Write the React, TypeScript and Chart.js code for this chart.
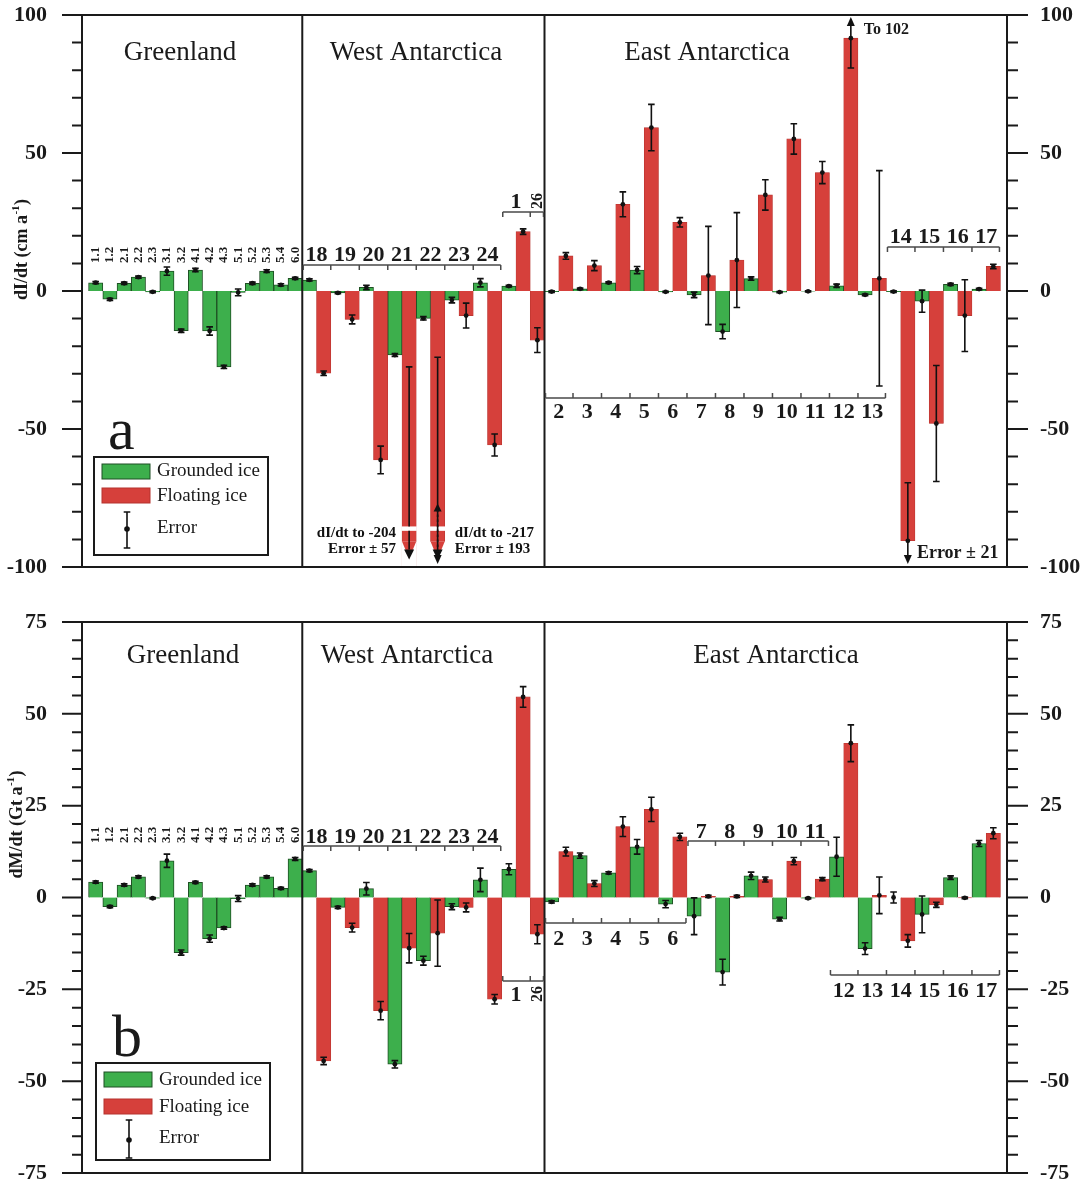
import React, { useEffect, useRef } from 'react';
import { Chart, registerables } from 'chart.js';

Chart.register(...registerables);

const SERIF = '"Liberation Serif", "Times New Roman", "DejaVu Serif", serif';
const INK = '#1a1a1a';
const GREEN = '#3daf4c';
const GREEN_EDGE = '#1f4f24';
const RED = '#d6403b';
const RED_EDGE = '#b5332e';

// ---------- basins ----------
const greenlandBasins = ['1.1', '1.2', '2.1', '2.2', '2.3', '3.1', '3.2', '4.1', '4.2', '4.3', '5.1', '5.2', '5.3', '5.4', '6.0'];
const westBasins = ['18', '19', '20', '21', '22', '23', '24', '1', '26'];
const eastBasins = ['2', '3', '4', '5', '6', '7', '8', '9', '10', '11', '12', '13', '14', '15', '16', '17'];
const regionNames = ['Greenland', 'West Antarctica', 'East Antarctica'];
const legendLabels = ['Grounded ice', 'Floating ice', 'Error'];

// ---------- panel a : dI/dt (cm/a) ----------
const aTickLabels = [-100, -50, 0, 50, 100];
const aGreenland = [3.0, -3.0, 2.8, 5.0, -0.3, 7.2, -14.4, 7.6, -14.5, -27.5, -0.5, 2.8, 7.2, 2.2, 4.6];
const aGreenlandErr = [0.4, 0.4, 0.4, 0.4, 0.3, 1.5, 0.6, 0.6, 1.5, 0.6, 1.2, 0.4, 0.5, 0.4, 0.4];
const aWestGrounded = [4.0, -0.7, 1.3, -23.2, -9.9, -3.3, 3.0, 1.8, null];
const aWestGroundedErr = [0.4, 0.3, 0.8, 0.5, 0.6, 1.0, 1.5, 0.3, null];
const aWestFloating = [-29.8, -10.3, -61.2, -204, -217, -8.9, -55.8, 21.5, -17.8];
const aWestFloatingErr = [0.8, 1.6, 5.0, 57, 193, 4.5, 4.0, 1.0, 4.5];
const aEastGrounded = [-0.2, 0.8, 3.0, 7.6, -0.3, -1.4, -14.7, 4.5, -0.4, -0.1, 1.9, -1.4, -0.2, -3.7, 2.4, 0.7];
const aEastGroundedErr = [0.3, 0.3, 0.3, 1.3, 0.2, 1.0, 2.6, 0.6, 0.2, 0.2, 0.6, 0.3, 0.3, 4.0, 0.4, 0.3];
const aEastFloating = [12.7, 9.2, 31.4, 59.2, 24.9, 5.6, 11.2, 34.8, 55.1, 42.9, 91.6, 4.6, -90.5, -48.0, -8.9, 8.9];
const aEastFloatingErr = [1.2, 1.8, 4.5, 8.4, 1.7, 17.8, 17.2, 5.5, 5.5, 4.0, 10.8, 39.0, 21.0, 21.0, 13.0, 0.8];

// ---------- panel b : dM/dt (Gt/a) ----------
const bTickLabels = [-75, -50, -25, 0, 25, 50, 75];
const bGreenland = [4.2, -2.5, 3.4, 5.6, -0.2, 10.0, -15.0, 4.1, -11.2, -8.3, -0.3, 3.4, 5.6, 2.5, 10.5];
const bGreenlandErr = [0.3, 0.3, 0.3, 0.3, 0.2, 1.8, 0.7, 0.3, 1.0, 0.3, 0.8, 0.3, 0.3, 0.3, 0.4];
const bWestGrounded = [7.3, -2.7, 2.4, -45.4, -17.2, -2.5, 4.8, 7.7, null];
const bWestGroundedErr = [0.3, 0.3, 1.7, 1.0, 1.2, 0.8, 3.2, 1.5, null];
const bWestFloating = [-44.5, -8.2, -30.8, -13.8, -9.7, -2.7, -27.7, 54.6, -10.0];
const bWestFloatingErr = [1.0, 1.2, 2.5, 4.0, 9.0, 1.2, 1.3, 2.8, 2.6];
const bEastGrounded = [-1.2, 11.4, 6.7, 13.8, -1.8, -5.1, -20.3, 5.9, -5.9, -0.2, 11.1, -13.9, 0.0, -4.6, 5.4, 14.7];
const bEastGroundedErr = [0.3, 0.7, 0.3, 2.0, 1.0, 5.0, 3.5, 1.0, 0.5, 0.2, 5.3, 1.6, 1.5, 5.0, 0.5, 0.8];
const bEastFloating = [12.5, 3.8, 19.3, 24.0, 16.5, 0.3, 0.3, 4.9, 9.9, 5.0, 42.0, 0.6, -11.8, -2.0, -0.1, 17.5];
const bEastFloatingErr = [1.2, 0.8, 2.7, 3.3, 1.0, 0.3, 0.3, 0.7, 1.0, 0.4, 5.0, 5.0, 1.7, 0.7, 0.2, 1.5];

// truncated bars (panel a)
const truncatedA = [
  { basin: '21', errFrom: -27.5, dashed: false, text: ['dI/dt to -204', 'Error \u00b1 57'], align: 'right' },
  { basin: '22', errFrom: -77.0, dashed: true, text: ['dI/dt to -217', 'Error \u00b1 193'], align: 'left' },
];
const notesA = [
  { basin: '12', text: 'To 102', size: 16 },
  { basin: '14', text: 'Error \u00b1 21', size: 18 },
];

// ---------- slots ----------
type Slot = { basin: string; kind: 'G' | 'F'; region: number };
const slots: Slot[] = [];
greenlandBasins.forEach((b) => slots.push({ basin: b, kind: 'G', region: 0 }));
westBasins.forEach((b, i) => {
  if (aWestGrounded[i] != null) slots.push({ basin: b, kind: 'G', region: 1 });
  slots.push({ basin: b, kind: 'F', region: 1 });
});
eastBasins.forEach((b) => {
  slots.push({ basin: b, kind: 'G', region: 2 });
  slots.push({ basin: b, kind: 'F', region: 2 });
});
const slotIndex = (region: number, basin: string, kind: 'G' | 'F') =>
  slots.findIndex((s) => s.region === region && s.basin === basin && s.kind === kind);
const basinSlots = (region: number, basin: string) =>
  slots.map((s, i) => (s.region === region && s.basin === basin ? i : -1)).filter((i) => i >= 0);

type Pt = { x: number; y: number; err: number | null };
function buildSeries(gl: number[], glE: number[], wG: any[], wGE: any[], wF: number[], wFE: number[],
  eG: number[], eGE: number[], eF: number[], eFE: number[]) {
  const grounded: Pt[] = [];
  const floating: Pt[] = [];
  greenlandBasins.forEach((b, i) => grounded.push({ x: slotIndex(0, b, 'G'), y: gl[i], err: glE[i] }));
  westBasins.forEach((b, i) => {
    if (wG[i] != null) grounded.push({ x: slotIndex(1, b, 'G'), y: wG[i], err: wGE[i] });
    floating.push({ x: slotIndex(1, b, 'F'), y: wF[i], err: wFE[i] });
  });
  eastBasins.forEach((b, i) => {
    grounded.push({ x: slotIndex(2, b, 'G'), y: eG[i], err: eGE[i] });
    floating.push({ x: slotIndex(2, b, 'F'), y: eF[i], err: eFE[i] });
  });
  return { grounded, floating };
}

const rng = (from: number, to: number) => eastBasins.slice(eastBasins.indexOf(String(from)), eastBasins.indexOf(String(to)) + 1);

const panelA = {
  series: buildSeries(aGreenland, aGreenlandErr, aWestGrounded, aWestGroundedErr, aWestFloating, aWestFloatingErr,
    aEastGrounded, aEastGroundedErr, aEastFloating, aEastFloatingErr),
  min: -100, max: 100, step: 10, tickLabels: aTickLabels,
  padTop: 15, padBottom: 25,
  yTitle: ['dI/dt (cm a', '-1', ')'], yTitleX: 22, yTitleY: 250,
  regionTitleX: [180, 416, 707], regionTitleY: 60,
  greenlandLabelY: 263,
  brackets: [
    { region: 1, basins: westBasins.slice(0, 7), side: 'above', lineY: 265, labelY: 261 },
    { region: 1, basins: ['1', '26'], side: 'above', lineY: 212, labelY: 208, rotated: ['26'] },
    { region: 2, basins: rng(2, 13), side: 'below', lineY: 398, labelY: 418 },
    { region: 2, basins: rng(14, 17), side: 'above', lineY: 247, labelY: 243 },
  ],
  legend: { x: 94, y: 457, w: 174, h: 98, sx: 102, tx: 157, rows: [471, 496, 528], swY: [464, 488], errTop: 512, errBot: 548, errDot: 529 },
  letter: { text: 'a', x: 108, y: 449 },
  truncated: truncatedA,
  notes: notesA,
};

const panelB = {
  series: buildSeries(bGreenland, bGreenlandErr, bWestGrounded, bWestGroundedErr, bWestFloating, bWestFloatingErr,
    bEastGrounded, bEastGroundedErr, bEastFloating, bEastFloatingErr),
  min: -75, max: 75, step: 5, tickLabels: bTickLabels,
  padTop: 30, padBottom: 11,
  yTitle: ['dM/dt (Gt a', '-1', ')'], yTitleX: 17, yTitleY: 233,
  regionTitleX: [183, 407, 776], regionTitleY: 71,
  greenlandLabelY: 251,
  brackets: [
    { region: 1, basins: westBasins.slice(0, 7), side: 'above', lineY: 254, labelY: 251 },
    { region: 1, basins: ['1', '26'], side: 'below', lineY: 389, labelY: 409, rotated: ['26'] },
    { region: 2, basins: rng(2, 6), side: 'below', lineY: 331, labelY: 353 },
    { region: 2, basins: rng(7, 11), side: 'above', lineY: 249, labelY: 246 },
    { region: 2, basins: rng(12, 17), side: 'below', lineY: 383, labelY: 405 },
  ],
  legend: { x: 96, y: 471, w: 174, h: 97, sx: 104, tx: 159, rows: [488, 515, 546], swY: [480, 507], errTop: 528, errBot: 566, errDot: 548 },
  letter: { text: 'b', x: 112, y: 464 },
  truncated: null as any,
  notes: null as any,
};

// ---------- drawing helpers ----------
function arrowHead(ctx: CanvasRenderingContext2D, x: number, tipY: number, dir: number, half = 4, len = 9) {
  ctx.beginPath();
  ctx.moveTo(x, tipY);
  ctx.lineTo(x - half, tipY - dir * len);
  ctx.lineTo(x + half, tipY - dir * len);
  ctx.closePath();
  ctx.fill();
}

function drawErrors(chart: any) {
  const { ctx, chartArea: ca } = chart;
  const ys = chart.scales.y;
  ctx.save();
  ctx.strokeStyle = '#111';
  ctx.fillStyle = '#111';
  ctx.lineWidth = 1.6;
  chart.data.datasets.forEach((ds: any, di: number) => {
    const meta = chart.getDatasetMeta(di);
    meta.data.forEach((el: any, i: number) => {
      const p = ds.data[i];
      const e = ds.errors[i];
      if (p == null || p.y == null || e == null) return;
      const hi = p.y + e;
      const lo = p.y - e;
      if (hi < ys.min || lo > ys.max) return;
      const x = el.x;
      const overTop = hi > ys.max;
      const under = lo < ys.min;
      const yT = overTop ? ca.top + 6 : ys.getPixelForValue(hi);
      const yB = under ? ca.bottom - 8 : ys.getPixelForValue(lo);
      ctx.beginPath();
      ctx.moveTo(x, yT);
      ctx.lineTo(x, yB);
      if (!overTop) { ctx.moveTo(x - 3.3, yT); ctx.lineTo(x + 3.3, yT); }
      if (!under) { ctx.moveTo(x - 3.3, yB); ctx.lineTo(x + 3.3, yB); }
      ctx.stroke();
      if (overTop) arrowHead(ctx, x, ca.top + 2, -1);
      if (under) arrowHead(ctx, x, ca.bottom - 3, 1);
      if (p.y >= ys.min && p.y <= ys.max) {
        ctx.beginPath();
        ctx.arc(x, ys.getPixelForValue(p.y), 2.4, 0, Math.PI * 2);
        ctx.fill();
      }
    });
  });
  ctx.restore();
}

function drawTruncated(chart: any, list: any[]) {
  const { ctx, chartArea: ca } = chart;
  const xs = chart.scales.x;
  const ys = chart.scales.y;
  const w = xs.getPixelForValue(1) - xs.getPixelForValue(0);
  const gapTop = ys.getPixelForValue(-85.3);
  const gapBot = ys.getPixelForValue(-86.9);
  const barEnd = ys.getPixelForValue(-90.8);
  ctx.save();
  list.forEach((t) => {
    const x = xs.getPixelForValue(slotIndex(1, t.basin, 'F'));
    ctx.fillStyle = '#ffffff';
    ctx.fillRect(x - w / 2 - 0.5, gapTop, w + 1, gapBot - gapTop);
    ctx.fillRect(x - w / 2 - 0.5, barEnd, w + 1, ca.bottom - 1 - barEnd);
    ctx.fillStyle = RED;
    ctx.beginPath();
    ctx.moveTo(x - w / 2, barEnd);
    ctx.lineTo(x + w / 2, barEnd);
    ctx.lineTo(x, barEnd + 17);
    ctx.closePath();
    ctx.fill();
    ctx.strokeStyle = '#111';
    ctx.fillStyle = '#111';
    ctx.lineWidth = 1.6;
    const yFrom = ys.getPixelForValue(t.errFrom);
    if (t.dashed) {
      ctx.setLineDash([2.5, 2.5]);
      ctx.beginPath();
      ctx.moveTo(x, yFrom + 6);
      ctx.lineTo(x, barEnd + 8);
      ctx.stroke();
      ctx.setLineDash([]);
      arrowHead(ctx, x, yFrom, -1, 4, 8);
    } else {
      ctx.beginPath();
      ctx.moveTo(x - 3.3, yFrom);
      ctx.lineTo(x + 3.3, yFrom);
      ctx.moveTo(x, yFrom);
      ctx.lineTo(x, gapTop);
      ctx.moveTo(x, gapBot);
      ctx.lineTo(x, barEnd + 8);
      ctx.stroke();
    }
    arrowHead(ctx, x, barEnd + 18, 1, 5, 10);
    ctx.font = `bold 15px ${SERIF}`;
    ctx.textBaseline = 'alphabetic';
    if (t.align === 'right') {
      ctx.textAlign = 'right';
      ctx.fillText(t.text[0], x - w / 2 - 6, 537);
      ctx.fillText(t.text[1], x - w / 2 - 6, 553);
    } else {
      ctx.textAlign = 'left';
      ctx.fillText(t.text[0], x + w / 2 + 10, 537);
      ctx.fillText(t.text[1], x + w / 2 + 10, 553);
    }
  });
  ctx.restore();
}

function drawBracket(ctx: CanvasRenderingContext2D, xs: any, b: any) {
  const w = xs.getPixelForValue(1) - xs.getPixelForValue(0);
  const spans = b.basins.map((bs: string) => {
    const idx = basinSlots(b.region, bs);
    return [xs.getPixelForValue(idx[0]) - w / 2, xs.getPixelForValue(idx[idx.length - 1]) + w / 2];
  });
  const left = spans[0][0] + 1;
  const right = spans[spans.length - 1][1] - 1;
  const dir = b.side === 'above' ? 1 : -1;
  ctx.save();
  ctx.strokeStyle = '#4a4a4a';
  ctx.lineWidth = 1.5;
  ctx.beginPath();
  ctx.moveTo(left, b.lineY);
  ctx.lineTo(right, b.lineY);
  const edges = [left, ...spans.slice(0, -1).map((s: number[]) => s[1]), right];
  edges.forEach((e: number) => {
    ctx.moveTo(e, b.lineY);
    ctx.lineTo(e, b.lineY + dir * 5);
  });
  ctx.stroke();
  ctx.fillStyle = INK;
  spans.forEach((s: number[], k: number) => {
    const cx = (s[0] + s[1]) / 2;
    const label = b.basins[k];
    if (b.rotated && b.rotated.includes(label)) {
      ctx.save();
      ctx.translate(cx, b.labelY + 1);
      ctx.rotate(-Math.PI / 2);
      ctx.font = `bold 16px ${SERIF}`;
      ctx.textAlign = 'left';
      ctx.textBaseline = 'middle';
      ctx.fillText(label, 0, 0);
      ctx.restore();
    } else {
      ctx.font = `bold 22px ${SERIF}`;
      ctx.textAlign = 'center';
      ctx.textBaseline = 'alphabetic';
      ctx.fillText(label, cx, b.labelY);
    }
  });
  ctx.restore();
}

function drawLegend(ctx: CanvasRenderingContext2D, L: any) {
  ctx.save();
  ctx.lineWidth = 2;
  ctx.strokeStyle = INK;
  ctx.strokeRect(L.x, L.y, L.w, L.h);
  ctx.fillStyle = GREEN;
  ctx.fillRect(L.sx, L.swY[0], 48, 15);
  ctx.lineWidth = 1;
  ctx.strokeStyle = GREEN_EDGE;
  ctx.strokeRect(L.sx, L.swY[0], 48, 15);
  ctx.fillStyle = RED;
  ctx.fillRect(L.sx, L.swY[1], 48, 15);
  ctx.strokeStyle = RED_EDGE;
  ctx.strokeRect(L.sx, L.swY[1], 48, 15);
  const ex = L.sx + 25;
  ctx.strokeStyle = '#111';
  ctx.fillStyle = '#111';
  ctx.lineWidth = 1.6;
  ctx.beginPath();
  ctx.moveTo(ex, L.errTop);
  ctx.lineTo(ex, L.errBot);
  ctx.moveTo(ex - 3.3, L.errTop);
  ctx.lineTo(ex + 3.3, L.errTop);
  ctx.moveTo(ex - 3.3, L.errBot);
  ctx.lineTo(ex + 3.3, L.errBot);
  ctx.stroke();
  ctx.beginPath();
  ctx.arc(ex, L.errDot, 2.8, 0, Math.PI * 2);
  ctx.fill();
  ctx.fillStyle = INK;
  ctx.font = `19px ${SERIF}`;
  ctx.textAlign = 'left';
  ctx.textBaseline = 'middle';
  legendLabels.forEach((t, i) => ctx.fillText(t, L.tx, L.rows[i]));
  ctx.restore();
}

function drawYTitle(ctx: CanvasRenderingContext2D, cx: number, cy: number, parts: string[]) {
  ctx.save();
  ctx.translate(cx, cy);
  ctx.rotate(-Math.PI / 2);
  const f1 = `bold 18px ${SERIF}`;
  const f2 = `bold 11px ${SERIF}`;
  ctx.font = f1;
  const w1 = ctx.measureText(parts[0]).width;
  const w3 = ctx.measureText(parts[2]).width;
  ctx.font = f2;
  const w2 = ctx.measureText(parts[1]).width;
  const start = -(w1 + w2 + w3) / 2;
  ctx.fillStyle = INK;
  ctx.textAlign = 'left';
  ctx.textBaseline = 'middle';
  ctx.font = f1;
  ctx.fillText(parts[0], start, 0);
  ctx.font = f2;
  ctx.fillText(parts[1], start + w1 + 0.5, -6);
  ctx.font = f1;
  ctx.fillText(parts[2], start + w1 + w2 + 1, 0);
  ctx.restore();
}

const decor = (cfg: any) => ({
  id: 'decor',
  afterDatasetsDraw(chart: any) {
    const { ctx, chartArea: ca, scales } = chart;
    const xs = scales.x;
    const ys = scales.y;
    if (cfg.truncated) drawTruncated(chart, cfg.truncated);
    drawErrors(chart);

    ctx.save();
    // frame and region dividers
    ctx.strokeStyle = INK;
    ctx.lineWidth = 2;
    ctx.strokeRect(ca.left, ca.top, ca.right - ca.left, ca.bottom - ca.top);
    const firstWest = slots.findIndex((s) => s.region === 1);
    const firstEast = slots.findIndex((s) => s.region === 2);
    [firstWest, firstEast].forEach((i) => {
      const dx = xs.getPixelForValue(i - 0.5);
      ctx.beginPath();
      ctx.moveTo(dx, ca.top);
      ctx.lineTo(dx, ca.bottom);
      ctx.stroke();
    });
    // y tick marks on both sides
    ys.ticks.forEach((t: any) => {
      const py = ys.getPixelForValue(t.value);
      const major = cfg.tickLabels.includes(t.value);
      ctx.beginPath();
      ctx.moveTo(ca.left - (major ? 20 : 10), py);
      ctx.lineTo(ca.left, py);
      ctx.moveTo(ca.right, py);
      ctx.lineTo(ca.right + (major ? 21 : 11), py);
      ctx.stroke();
    });
    // region titles
    ctx.fillStyle = INK;
    ctx.font = `27px ${SERIF}`;
    ctx.textAlign = 'center';
    ctx.textBaseline = 'alphabetic';
    regionNames.forEach((n, i) => ctx.fillText(n, cfg.regionTitleX[i], cfg.regionTitleY));
    // greenland basin labels (rotated)
    ctx.font = `bold 13px ${SERIF}`;
    greenlandBasins.forEach((b) => {
      const x = xs.getPixelForValue(slotIndex(0, b, 'G'));
      ctx.save();
      ctx.translate(x, cfg.greenlandLabelY);
      ctx.rotate(-Math.PI / 2);
      ctx.textAlign = 'left';
      ctx.textBaseline = 'middle';
      ctx.fillText(b, 0, 0);
      ctx.restore();
    });
    ctx.restore();

    cfg.brackets.forEach((b: any) => drawBracket(ctx, xs, b));

    if (cfg.notes) {
      ctx.save();
      ctx.fillStyle = INK;
      ctx.textAlign = 'left';
      ctx.textBaseline = 'alphabetic';
      const w = xs.getPixelForValue(1) - xs.getPixelForValue(0);
      cfg.notes.forEach((n: any, k: number) => {
        const x = xs.getPixelForValue(slotIndex(2, n.basin, 'F'));
        ctx.font = `bold ${n.size}px ${SERIF}`;
        if (k === 0) ctx.fillText(n.text, x + 13, 34);
        else ctx.fillText(n.text, x + w / 2 + 2, 558);
      });
      ctx.restore();
    }

    drawLegend(ctx, cfg.legend);

    ctx.save();
    ctx.fillStyle = INK;
    ctx.font = `60px ${SERIF}`;
    ctx.textAlign = 'left';
    ctx.textBaseline = 'alphabetic';
    ctx.fillText(cfg.letter.text, cfg.letter.x, cfg.letter.y);
    ctx.restore();

    drawYTitle(ctx, cfg.yTitleX, cfg.yTitleY, cfg.yTitle);
  },
});

function buildConfig(cfg: any): any {
  const yAxis = (position: string, width: number, pad: number) => ({
    type: 'linear',
    position,
    min: cfg.min,
    max: cfg.max,
    grid: { display: false, drawTicks: false },
    border: { display: false },
    ticks: {
      stepSize: cfg.step,
      autoSkip: false,
      padding: pad,
      color: INK,
      font: { family: SERIF, size: 22, weight: 'bold', lineHeight: 1 },
      callback: (v: number) => (cfg.tickLabels.includes(v) ? String(v) : ''),
    },
    afterFit: (s: any) => {
      s.width = width;
      s.paddingTop = 0;
      s.paddingBottom = 0;
    },
  });
  const ds = (label: string, pts: Pt[], bg: string, edge: string, bw: number) => ({
    label,
    data: pts.map((p) => ({ x: p.x, y: p.y })),
    errors: pts.map((p) => p.err),
    backgroundColor: bg,
    borderColor: edge,
    borderWidth: bw,
    grouped: false,
    barPercentage: 1,
    categoryPercentage: 1,
    yAxisID: 'y',
  });
  return {
    type: 'bar',
    data: {
      datasets: [
        ds(legendLabels[0], cfg.series.grounded, GREEN, GREEN_EDGE, 1),
        ds(legendLabels[1], cfg.series.floating, RED, RED_EDGE, 0.6),
      ],
    },
    options: {
      responsive: false,
      animation: false,
      devicePixelRatio: 1,
      events: [],
      layout: { padding: { left: 0, right: 0, top: cfg.padTop, bottom: cfg.padBottom } },
      plugins: { legend: { display: false }, tooltip: { enabled: false } },
      scales: {
        x: { type: 'linear', display: false, offset: false, min: -0.96, max: slots.length - 1 + 0.96, ticks: { includeBounds: false } },
        y: yAxis('left', 82, 35),
        y2: yAxis('right', 79, 33),
      },
    },
    plugins: [decor(cfg)],
  };
}

function Panel({ cfg, height }: { cfg: any; height: number }) {
  const ref = useRef<HTMLCanvasElement>(null);
  useEffect(() => {
    if (!ref.current) return;
    const chart = new Chart(ref.current, buildConfig(cfg));
    return () => chart.destroy();
  }, [cfg]);
  return <canvas ref={ref} width={1086} height={height} style={{ display: 'block', width: 1086, height }} />;
}

export default function App() {
  return (
    <div style={{ position: 'absolute', left: 0, top: 0, width: 1086, height: 1184, background: '#ffffff' }}>
      <Panel cfg={panelA} height={592} />
      <Panel cfg={panelB} height={592} />
    </div>
  );
}
